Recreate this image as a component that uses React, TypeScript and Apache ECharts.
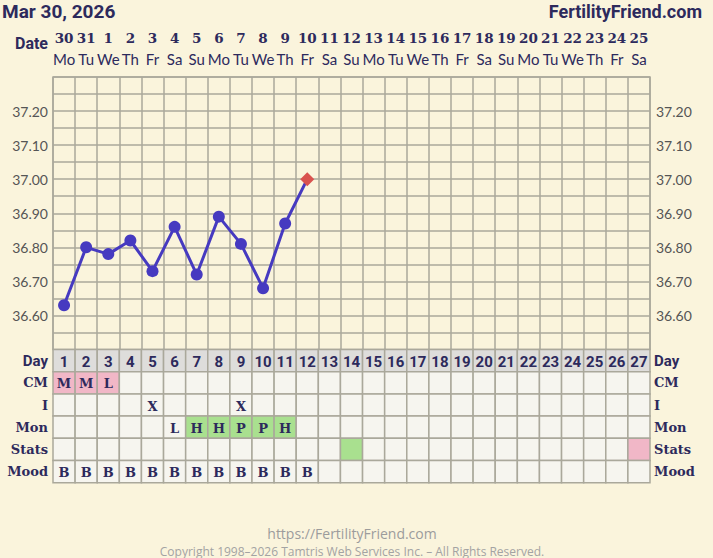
import React, { useEffect, useRef } from "react";
import * as echarts from "echarts";

// ---------- data ----------
const cycleDays = ["1","2","3","4","5","6","7","8","9","10","11","12","13","14","15","16","17","18","19","20","21","22","23","24","25","26","27"];
const dateNumbers = ["30","31","1","2","3","4","5","6","7","8","9","10","11","12","13","14","15","16","17","18","19","20","21","22","23","24","25"];
const weekdays = ["Mo","Tu","We","Th","Fr","Sa","Su","Mo","Tu","We","Th","Fr","Sa","Su","Mo","Tu","We","Th","Fr","Sa","Su","Mo","Tu","We","Th","Fr","Sa"];
const temps = [36.63, 36.80, 36.78, 36.82, 36.73, 36.86, 36.72, 36.89, 36.81, 36.68, 36.87, 37.00];
const tempMarks = ["o","o","o","o","o","o","o","o","o","o","o","d"];
const yTickLabels = ["36.60","36.70","36.80","36.90","37.00","37.10","37.20"];
const rowLabels = ["Day","CM","I","Mon","Stats","Mood"];
const cmRow = ["M","M","L","","","","","","","","","","","","","","","","","","","","","","","",""];
const intercourseRow = ["","","","","X","","","","X","","","","","","","","","","","","","","","","","",""];
const monitorRow = ["","","","","","L","H","H","P","P","H","","","","","","","","","","","","","","","",""];
const statsRow = ["","","","","","","","","","","","","","G","","","","","","","","","","","","","R"];
const moodRow = ["B","B","B","B","B","B","B","B","B","B","B","B","","","","","","","","","","","","","","",""];

// ---------- styles ----------
const BG = "#faf4dc";
const NAVY = "#2d2a5c";
const GRIDLINE = "#aaa89b";
const CELL = "#f6f5ef";
const DAYCELL = "#dedddb";
const PINK = "#f1b7c7";
const GREEN = "#a9e08f";
const LINE = "#463ac0";
const RED = "#d9534f";

const cellFill = (row: number, v: string) => {
  if (row === 0) return DAYCELL;
  if (row === 1 && v) return PINK;
  if (row === 3 && (v === "H" || v === "P")) return GREEN;
  if (row === 4 && v === "G") return GREEN;
  if (row === 4 && v === "R") return PINK;
  return CELL;
};

export default function App() {
  const ref = useRef<HTMLDivElement>(null);
  useEffect(() => {
    if (!ref.current) return;
    const chart = echarts.init(ref.current, undefined, { renderer: "svg" });

    const rows = [cycleDays, cmRow, intercourseRow, monitorRow, statsRow, moodRow];
    const cells: { text: string; fill: string; row: number }[] = [];
    const cellData: number[][] = [];
    rows.forEach((r, ri) => {
      r.forEach((v, ci) => {
        const showText = ri === 4 ? "" : v;
        cells.push({ text: showText, fill: cellFill(ri, v), row: ri });
        cellData.push([ci, ri]);
      });
    });

    const labelRich = {
      s: { fontFamily: "Roboto", fontWeight: "bold", fontSize: 15, color: NAVY },
      r: { fontFamily: "'DejaVu Serif'", fontWeight: "bold", fontSize: 13, color: NAVY },
    };
    const rowFmt = (v: string) => (v === "Day" ? `{s|${v}}` : `{r|${v}}`);
    const tempFmt = (v: number) => {
      const s = v.toFixed(2);
      return yTickLabels.includes(s) ? s : "";
    };

    const option: any = {
      animation: false,
      backgroundColor: BG,
      textStyle: { fontFamily: "Roboto" },
      grid: [
        { left: 53, top: 77, width: 597, height: 272.5, show: true, borderColor: GRIDLINE, borderWidth: 1.5, backgroundColor: "transparent" },
        { left: 53, top: 349.5, width: 597, height: 133.2 },
      ],
      xAxis: [
        {
          type: "category", gridIndex: 0, data: cycleDays, boundaryGap: true,
          axisLine: { show: false }, axisTick: { show: false }, axisLabel: { show: false },
          splitLine: { show: true, interval: 0, lineStyle: { color: GRIDLINE, width: 1.5 } },
        },
        {
          type: "category", gridIndex: 0, data: dateNumbers, position: "top", boundaryGap: true,
          axisLine: { show: false }, axisTick: { show: false }, splitLine: { show: false },
          axisLabel: {
            interval: 0, margin: 7,
            formatter: (v: string, i: number) => `{d|${v}}\n{w|${weekdays[i]}}`,
            rich: {
              d: { fontFamily: "'DejaVu Serif'", fontWeight: "bold", fontSize: 13.5, color: NAVY, lineHeight: 21.5 },
              w: { fontFamily: "Lato", fontSize: 15, color: NAVY, lineHeight: 21.5 },
            },
          },
        },
        {
          type: "category", gridIndex: 1, data: cycleDays, boundaryGap: true,
          axisLine: { show: false }, axisTick: { show: false }, axisLabel: { show: false }, splitLine: { show: false },
        },
      ],
      yAxis: [
        {
          type: "value", gridIndex: 0, min: 36.5, max: 37.3, interval: 0.05, position: "left",
          axisLine: { show: false }, axisTick: { show: false },
          axisLabel: { formatter: tempFmt, margin: 5, color: "#555", fontFamily: "Lato", fontSize: 14 },
          splitLine: { show: true, lineStyle: { color: GRIDLINE, width: 1.5 } },
        },
        {
          type: "value", gridIndex: 0, min: 36.5, max: 37.3, interval: 0.05, position: "right",
          axisLine: { show: false }, axisTick: { show: false },
          axisLabel: { formatter: tempFmt, margin: 6, color: "#555", fontFamily: "Lato", fontSize: 14 },
          splitLine: { show: false },
        },
        {
          type: "category", gridIndex: 1, data: rowLabels, inverse: true, position: "left",
          axisLine: { show: false }, axisTick: { show: false }, splitLine: { show: false },
          axisLabel: { interval: 0, margin: 5, formatter: rowFmt, rich: labelRich },
        },
        {
          type: "category", gridIndex: 1, data: rowLabels, inverse: true, position: "right",
          axisLine: { show: false }, axisTick: { show: false }, splitLine: { show: false },
          axisLabel: { interval: 0, margin: 4, formatter: rowFmt, rich: labelRich },
        },
      ],
      series: [
        {
          type: "line", xAxisIndex: 0, yAxisIndex: 0,
          data: temps.map((t, i) =>
            tempMarks[i] === "d"
              ? { value: t, symbol: "diamond", symbolSize: 14, itemStyle: { color: RED } }
              : { value: t }
          ),
          symbol: "circle", symbolSize: 12,
          itemStyle: { color: LINE },
          lineStyle: { color: LINE, width: 3 },
          z: 5,
        },
        {
          type: "custom", xAxisIndex: 2, yAxisIndex: 2, coordinateSystem: "cartesian2d",
          data: cellData,
          renderItem: (params: any, api: any) => {
            const c = cells[params.dataIndex];
            const p = api.coord([api.value(0), api.value(1)]);
            const s = api.size([1, 1]);
            return {
              type: "group",
              children: [
                {
                  type: "rect",
                  shape: { x: p[0] - s[0] / 2, y: p[1] - s[1] / 2, width: s[0], height: s[1] },
                  style: { fill: c.fill, stroke: GRIDLINE, lineWidth: 1.5 },
                },
                {
                  type: "text", x: p[0], y: p[1] + 1,
                  style: {
                    text: c.text, fill: NAVY, align: "center", verticalAlign: "middle",
                    fontFamily: c.row === 0 ? "Roboto" : "'DejaVu Serif'",
                    fontWeight: "bold", fontSize: c.row === 0 ? 15 : 13,
                  },
                },
              ],
            };
          },
        },
      ],
      graphic: [
        { type: "text", x: 2, y: 11, style: { text: "Mar 30, 2026", fill: NAVY, fontFamily: "Roboto", fontWeight: "bold", fontSize: 19, align: "left", verticalAlign: "middle" } },
        { type: "text", x: 702, y: 11, style: { text: "FertilityFriend.com", fill: NAVY, fontFamily: "Roboto", fontWeight: "bold", fontSize: 18, align: "right", verticalAlign: "middle" } },
        { type: "text", x: 48, y: 43, style: { text: "Date", fill: NAVY, fontFamily: "Roboto", fontWeight: "bold", fontSize: 16, align: "right", verticalAlign: "middle" } },
        { type: "text", x: 352, y: 533, style: { text: "https://FertilityFriend.com", fill: "#9c9c9c", fontFamily: "'Open Sans'", fontSize: 14, align: "center", verticalAlign: "middle" } },
        { type: "text", x: 352, y: 551, style: { text: "Copyright 1998\u20132026 Tamtris Web Services Inc. \u2013 All Rights Reserved.", fill: "#a3a3a3", fontFamily: "'Open Sans'", fontSize: 12, align: "center", verticalAlign: "middle" } },
      ],
    };
    chart.setOption(option);
    return () => chart.dispose();
  }, []);
  return <div ref={ref} style={{ position: "fixed", left: 0, top: 0, width: 713, height: 558 }} />;
}
